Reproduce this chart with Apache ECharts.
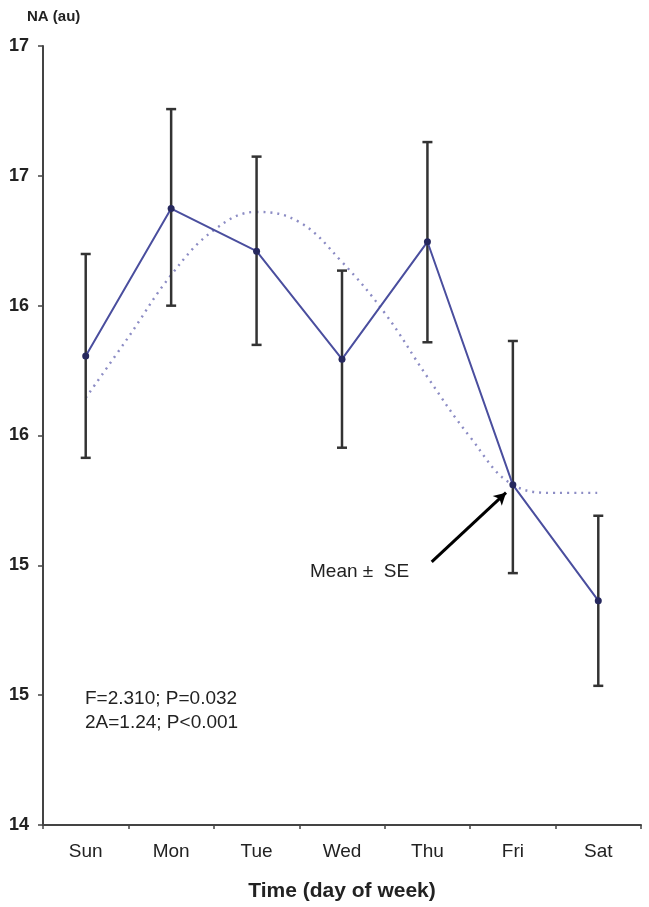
<!DOCTYPE html>
<html>
<head>
<meta charset="utf-8">
<script src="https://cdn.jsdelivr.net/npm/echarts@6/dist/echarts.min.js"></script>
<style>
  html, body { margin: 0; padding: 0; background: #fff; }
  #chart { width: 649px; height: 907px; }
</style>
</head>
<body>
<div id="chart"></div>
<script>
// days
const days = ['Sun', 'Mon', 'Tue', 'Wed', 'Thu', 'Fri', 'Sat']
// mean values
const meanNA = [15.806, 16.374, 16.21, 15.794, 16.246, 15.31, 14.864]
// SE bounds
const seLow = [15.414, 16.0, 15.849, 15.453, 15.859, 14.97, 14.536]
const seHigh = [16.199, 16.757, 16.574, 16.135, 16.63, 15.864, 15.191]
// fitted curve (read at half-day steps)
const fitX = [0, 0.5, 1, 1.5, 2, 2.5, 3, 3.5, 4, 4.5, 5, 5.5, 6]
const fitY = [15.645, 15.879, 16.118, 16.291, 16.361, 16.322, 16.168, 15.972, 15.725, 15.494, 15.31, 15.279, 15.279]

const font = 'Liberation Sans, Arial, sans-serif'
const myChart = echarts.init(document.getElementById('chart'))

const option = {
  animation: false,
  grid: { left: 43, right: 8, top: 46, bottom: 82 },
  xAxis: [
    {
      type: 'category',
      data: days,
      boundaryGap: true,
      name: 'Time (day of week)',
      nameLocation: 'middle',
      nameGap: 56,
      nameTextStyle: { fontFamily: font, fontSize: 21, fontWeight: 'bold', color: '#222' },
      axisLine: { lineStyle: { color: '#444', width: 2 } },
      axisTick: { show: true, length: 4, lineStyle: { color: '#444', width: 1.5 } },
      axisLabel: { fontFamily: font, fontSize: 19, color: '#222', margin: 17 }
    },
    {
      type: 'value',
      min: -0.5,
      max: 6.5,
      show: false
    }
  ],
  yAxis: {
    type: 'value',
    min: 14,
    max: 17,
    interval: 0.5,
    name: 'NA (au)',
    nameLocation: 'end',
    nameGap: 22,
    nameTextStyle: { fontFamily: font, fontSize: 15, fontWeight: 'bold', color: '#222', align: 'left', padding: [0, 0, 0, -16] },
    splitLine: { show: false },
    axisLine: { show: true, onZero: false, lineStyle: { color: '#444', width: 2 } },
    axisTick: { show: true, length: 5, lineStyle: { color: '#444', width: 1.5 } },
    axisLabel: {
      fontFamily: font,
      fontSize: 18,
      fontWeight: 'bold',
      color: '#222',
      margin: 14,
      formatter: v => Math.round(v)
    }
  },
  graphic: [
    {
      type: 'text',
      left: 85,
      top: 687,
      style: { text: 'F=2.310; P=0.032\n2A=1.24; P<0.001', font: '19px ' + font, fill: '#222', lineHeight: 24 }
    },
    {
      type: 'text',
      left: 310,
      top: 562,
      style: { text: 'Mean \u00b1  SE', font: '19px ' + font, fill: '#222' }
    }
  ],
  series: [
    {
      type: 'line',
      xAxisIndex: 1,
      data: fitX.map((x, i) => [x, fitY[i]]),
      smooth: 0.4,
      showSymbol: false,
      lineStyle: { color: '#8c8cc4', width: 2.4, type: [2, 5] },
      z: 2,
      markLine: {
        silent: true,
        symbol: ['none', 'arrow'],
        symbolSize: [10, 12],
        label: { show: false },
        lineStyle: { color: '#000', width: 3, type: 'solid' },
        data: [[{ coord: [4.05, 15.013] }, { coord: [4.92, 15.28] }]]
      }
    },
    {
      type: 'custom',
      data: days.map((d, i) => [i, seLow[i], seHigh[i]]),
      renderItem: function (params, api) {
        const lo = api.coord([api.value(0), api.value(1)])
        const hi = api.coord([api.value(0), api.value(2)])
        const cap = 5
        const style = { stroke: '#333', lineWidth: 2.5 }
        return {
          type: 'group',
          children: [
            { type: 'line', shape: { x1: lo[0], y1: lo[1], x2: hi[0], y2: hi[1] }, style },
            { type: 'line', shape: { x1: lo[0] - cap, y1: lo[1], x2: lo[0] + cap, y2: lo[1] }, style },
            { type: 'line', shape: { x1: hi[0] - cap, y1: hi[1], x2: hi[0] + cap, y2: hi[1] }, style }
          ]
        }
      },
      z: 3
    },
    {
      type: 'line',
      data: meanNA,
      symbol: 'circle',
      symbolSize: 7,
      itemStyle: { color: '#26285e' },
      lineStyle: { color: '#4a4e9e', width: 2 },
      z: 4
    }
  ]
}
myChart.setOption(option)

window.addEventListener('resize', () => {
  myChart.resize()
})
</script>
</body>
</html>
